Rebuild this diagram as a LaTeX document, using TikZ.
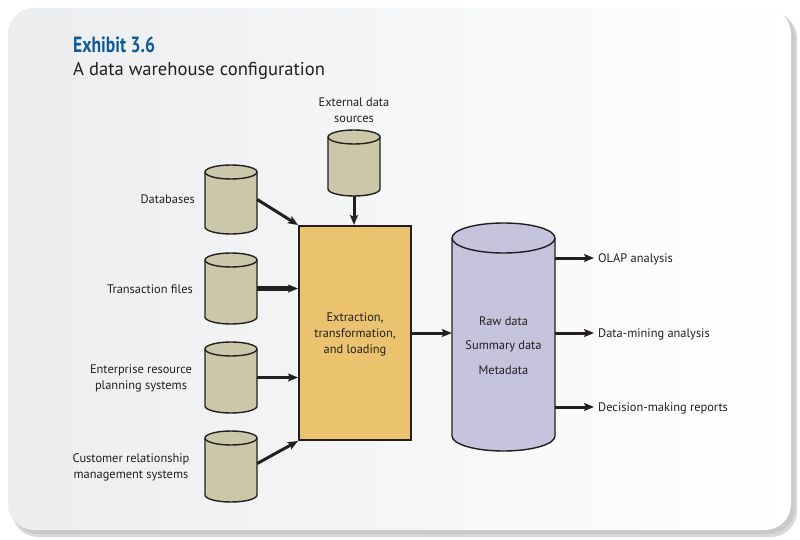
\documentclass[tikz,border=0pt]{standalone}
\usepackage{fontspec}
\setmainfont{PT Sans}
\newfontfamily\titlefont{PT Sans}[FakeStretch=0.8]
\usetikzlibrary{arrows.meta,positioning}
\definecolor{inkc}{HTML}{231F20}
\definecolor{titleblue}{HTML}{0E5B98}
\definecolor{cylbeige}{HTML}{CBC7A9}
\definecolor{cyllav}{HTML}{C6C3DC}
\definecolor{etlfill}{HTML}{EBC36E}
\definecolor{cardgrey}{HTML}{ECEDEF}
\newcommand{\dbcyl}[7]{% name, cx, top, bottom, halfwidth, ry, fill
  \filldraw[fill=#7, draw=inkc, line width=1.4pt]
    (#2-#5,#3+#6) -- (#2-#5,#4-#6)
    arc[start angle=180, end angle=0, x radius=#5, y radius=#6]
    -- (#2+#5,#3+#6)
    arc[start angle=0, end angle=-180, x radius=#5, y radius=#6] -- cycle;
  \draw[inkc, line width=1.4pt] (#2-#5,#3+#6)
    arc[start angle=180, end angle=0, x radius=#5, y radius=#6];
  \node[inner sep=0pt, minimum width=2*#5, minimum height=#4-#3] (#1) at (#2,{(#3+#4)/2}) {};
}
\tikzset{
  lbl/.style={font=\fontsize{12.4}{16}\selectfont, text=inkc, inner sep=0pt, align=center},
  flow/.style={draw=inkc, line width=3pt, -{Stealth[length=10pt,width=8pt,inset=2pt]}},
}
\begin{document}
\begin{tikzpicture}[x=1pt,y=-1pt]
\useasboundingbox (0,0) rectangle (800,540);
\fill[white] (0,0) rectangle (800,540);
% card shadow and card
\fill[gray!30, rounded corners=26pt] (12,12) rectangle (797,537);
\fill[gray!42, rounded corners=26pt] (12,12) rectangle (795,534);
\shade[left color=cardgrey, right color=white, rounded corners=26pt] (8,8) rectangle (791,530);
% titles
\node[anchor=base west, inner sep=0pt, text=titleblue, font=\titlefont\bfseries\fontsize{22}{24}\selectfont] (title) at (73,53) {Exhibit 3.6};
\node[anchor=base west, inner sep=0pt, text=inkc, font=\fontsize{18.6}{20}\selectfont] (subtitle) at (73,76) {A data warehouse configuration};
% cylinders
\dbcyl{db}{231}{165}{234}{26}{7}{cylbeige}
\dbcyl{tf}{231}{253}{324}{26}{7}{cylbeige}
\dbcyl{erp}{231}{342}{413}{26}{7}{cylbeige}
\dbcyl{crm}{231}{431}{502}{26}{7}{cylbeige}
\dbcyl{ext}{354}{130}{196}{26}{7}{cylbeige}
\dbcyl{dw}{503.5}{223}{451}{51.5}{15}{cyllav}
% ETL box
\node[draw=inkc, fill=etlfill, line width=2pt, minimum width=112pt, minimum height=214pt, inner sep=0pt] (etl) at (355,333) {};
\node[lbl, font=\fontsize{12.4}{16}\selectfont] (etltxt) at (355,334) {Extraction,\\transformation,\\and loading};
% warehouse text
\node[lbl, align=center, font=\fontsize{12.4}{24.5}\selectfont] (dwtxt) at (503.5,345.5) {Raw data\\Summary data\\Metadata};
% source labels
\node[lbl, anchor=base east] (ldb) at (195,204) {Databases};
\node[lbl, anchor=base east] (ltf) at (193,293) {Transaction files};
\node[lbl] (lerp) at (141,378.5) {Enterprise resource\\planning systems};
\node[lbl] (lcrm) at (131,467.5) {Customer relationship\\management systems};
\node[lbl] (lext) at (354,110.5) {External data\\sources};
% outputs
\coordinate (o1) at (594,258);
\coordinate (o2) at (594,333);
\coordinate (o3) at (594,407);
\node[lbl, anchor=base west] (lo1) at (598,262.5) {OLAP analysis};
\node[lbl, anchor=base west] (lo2) at (598,337.5) {Data-mining analysis};
\node[lbl, anchor=base west] (lo3) at (598,411.5) {Decision-making reports};
% connectors
\draw[flow] (db.east) -- (etl.north west);
\draw[flow, line width=4.2pt] (tf.east) -- (tf.east -| etl.west);
\draw[flow] (erp.east) -- (erp.east -| etl.west);
\draw[flow] ([yshift=3pt]crm.east) -- (etl.south west);
\draw[flow] (ext.south) -- (ext.south |- etl.north);
\draw[flow] (etl.east) -- (etl.east -| dw.west);
\draw[flow] (o1 -| dw.east) -- (o1);
\draw[flow] (o2 -| dw.east) -- (o2);
\draw[flow] (o3 -| dw.east) -- (o3);
\end{tikzpicture}
\end{document}
